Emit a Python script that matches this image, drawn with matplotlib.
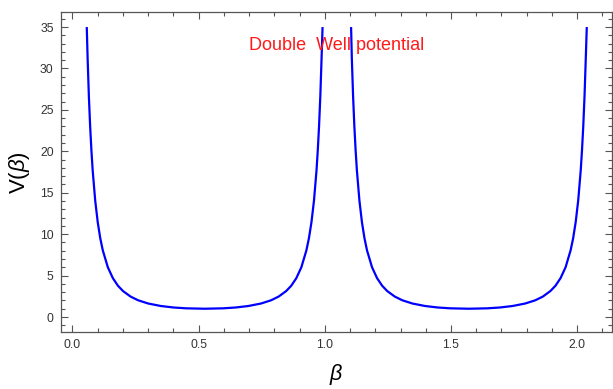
import matplotlib
matplotlib.use("Agg")
import matplotlib.pyplot as plt
from matplotlib.ticker import MultipleLocator

plt.rcParams["font.family"] = ["Liberation Sans", "DejaVu Sans"]
plt.rcParams["mathtext.fontset"] = "custom"
plt.rcParams["mathtext.it"] = "Liberation Sans:italic"
plt.rcParams["mathtext.rm"] = "Liberation Sans"

# values (left well, beta < 1.047)
beta_left = [0.0566, 0.060, 0.065, 0.070, 0.075, 0.080, 0.090, 0.100, 0.110, 0.120,
             0.140, 0.160, 0.180, 0.200, 0.230, 0.260, 0.300, 0.350, 0.400, 0.450,
             0.524, 0.597, 0.647, 0.697, 0.747, 0.787, 0.817, 0.847, 0.867, 0.887,
             0.907, 0.927, 0.937, 0.947, 0.957, 0.967, 0.972, 0.977, 0.982, 0.987, 0.991]
v_left = [35.0, 31.2, 26.6, 23.0, 20.1, 17.7, 14.06, 11.45, 9.52, 8.06,
          6.01, 4.69, 3.78, 3.14, 2.47, 2.02, 1.63, 1.33, 1.15, 1.05,
          1.00, 1.05, 1.15, 1.33, 1.63, 2.02, 2.47, 3.14, 3.78, 4.69,
          6.01, 8.06, 9.52, 11.45, 14.06, 17.7, 20.1, 23.0, 26.6, 31.2, 35.0]

# right well, beta > 1.047
beta_right = [1.104, 1.107, 1.112, 1.117, 1.122, 1.127, 1.137, 1.147, 1.157, 1.167,
              1.187, 1.207, 1.227, 1.247, 1.277, 1.307, 1.347, 1.397, 1.447, 1.497,
              1.571, 1.644, 1.694, 1.744, 1.794, 1.834, 1.864, 1.894, 1.914, 1.934,
              1.954, 1.974, 1.984, 1.994, 2.004, 2.014, 2.019, 2.024, 2.029, 2.034, 2.038]
v_right = [35.0, 31.2, 26.6, 23.0, 20.1, 17.7, 14.06, 11.45, 9.52, 8.06,
           6.01, 4.69, 3.78, 3.14, 2.47, 2.02, 1.63, 1.33, 1.15, 1.05,
           1.00, 1.05, 1.15, 1.33, 1.63, 2.02, 2.47, 3.14, 3.78, 4.69,
           6.01, 8.06, 9.52, 11.45, 14.06, 17.7, 20.1, 23.0, 26.6, 31.2, 35.0]

fig = plt.figure(figsize=(6.13, 3.89), dpi=100)
ax = fig.add_axes([0.0989, 0.1465, 0.8995, 0.8225])

for xs, ys in ((beta_left, v_left), (beta_right, v_right)):
    ax.plot(xs, ys, color="#0000ff", linewidth=1.6, solid_capstyle="butt")

ax.text(1.048, 32.8, "Double  Well potential", color="#ff1a1a", fontsize=13,
        ha="center", va="center")

ax.set_xlim(-0.047, 2.138)
ax.set_ylim(-1.81, 36.81)
ax.xaxis.set_major_locator(MultipleLocator(0.5))
ax.xaxis.set_minor_locator(MultipleLocator(0.1))
ax.yaxis.set_major_locator(MultipleLocator(5))
ax.yaxis.set_minor_locator(MultipleLocator(1))
ax.xaxis.set_major_formatter(plt.FuncFormatter(lambda v, p: f"{v:.1f}"))

frame = "#555555"
for s in ax.spines.values():
    s.set_color(frame)
    s.set_linewidth(0.9)
ax.tick_params(which="both", direction="in", top=True, right=True, color=frame,
               labelsize=8.8, labelcolor="#333333", width=0.8)
ax.tick_params(which="major", length=5, pad=5)
ax.tick_params(which="minor", length=3)

ax.set_xlabel(r"$\beta$", fontsize=15.5, labelpad=8)
ax.set_ylabel(r"V($\beta$)", fontsize=16, labelpad=6)

fig.savefig("out.png", dpi=100)
